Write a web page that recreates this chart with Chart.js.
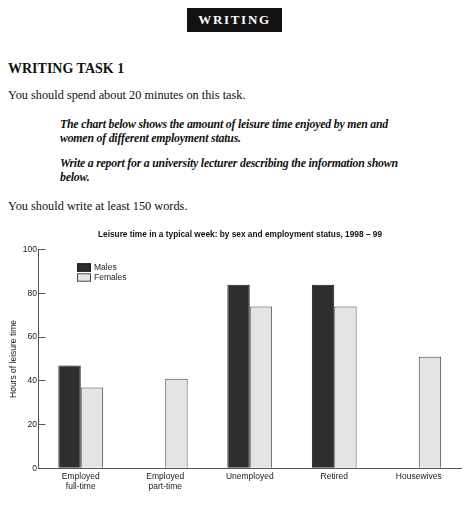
<!DOCTYPE html>
<html>
<head>
<meta charset="utf-8">
<script src="https://cdn.jsdelivr.net/npm/chart.js@4.4.1/dist/chart.umd.min.js"></script>
<style>
  html, body { margin: 0; padding: 0; background: #fff; overflow: hidden; }
  body { width: 470px; height: 512px; position: relative; font-family: "Liberation Serif", "Times New Roman", serif; color: #111; }
  .t { position: absolute; white-space: nowrap; color: #111; }
  #badge { left: 187px; top: 8px; width: 95px; height: 24px; background: #111; color: #fff;
           font: bold 13px/24px "Liberation Serif", serif; letter-spacing: 1.7px; text-align: center; }
  #task { left: 8px; top: 60.6px; font: bold 14px/16px "Liberation Serif", serif; }
  .p { font-family: "Liberation Serif", "Times New Roman", serif; font-size: 12.3px; line-height: 14px; }
  .bi { font-weight: bold; font-style: italic; font-size: 11.8px; letter-spacing: -0.2px; }
  #ctitle { left: 0; width: 480px; text-align: center; top: 228.5px;
            font: bold 8.3px/10px "Liberation Sans", Arial, sans-serif; color: #111; }
  #wrap { position: absolute; left: 0; top: 222px; width: 470px; height: 290px; }
</style>
</head>
<body>
<div class="t" id="badge">WRITING</div>
<div class="t" id="task">WRITING TASK 1</div>
<div class="t p" style="left:8px; top:88.2px;">You should spend about 20 minutes on this task.</div>
<div class="t p bi" style="left:60px; top:116.6px;">The chart below shows the amount of leisure time enjoyed by men and<br>women of different employment status.</div>
<div class="t p bi" style="left:60px; top:156px;">Write a report for a university lecturer describing the information shown<br>below.</div>
<div class="t p" style="left:8px; top:198.9px;">You should write at least <span style="color:#111">150</span> words.</div>
<div id="wrap"><canvas id="chart" width="470" height="290"></canvas></div>
<div class="t" id="ctitle">Leisure time in a typical week: by sex and employment status, 1998 – 99</div>

<script>
const categories = [["Employed", "full-time"], ["Employed", "part-time"], "Unemployed", "Retired", "Housewives"];
const males = [47, null, 84, 84, null];
const females = [37, 41, 74, 74, 51];
const yTicks = [0, 20, 40, 60, 80, 100];

const sans = "'Liberation Sans', Arial, sans-serif";

// legend sits inside the plot, top left
const insideLegend = {
  id: "insideLegend",
  afterDraw(chart) {
    const c = chart.ctx;
    const a = chart.chartArea;
    const x = a.left + 38.5;
    let y = a.top + 13.6;
    c.save();
    c.font = "8.5px " + sans;
    c.textBaseline = "middle";
    chart.data.datasets.forEach(function (ds) {
      c.fillStyle = ds.backgroundColor;
      c.fillRect(x, y, 14, 8.4);
      c.strokeStyle = ds.borderColor;
      c.lineWidth = 1;
      c.strokeRect(x + 0.5, y + 0.5, 13, 7.4);
      c.fillStyle = "#1a1a1a";
      c.fillText(ds.label, x + 17, y + 4.4);
      y += 10;
    });
    c.restore();
  },
};

new Chart(document.getElementById("chart").getContext("2d"), {
  type: "bar",
  data: {
    labels: categories,
    datasets: [
      {
        label: "Males",
        data: males,
        backgroundColor: "#2e2e2e",
        borderColor: "#1a1a1a",
        borderWidth: 1,
      },
      {
        label: "Females",
        data: females,
        backgroundColor: "#e4e4e4",
        borderColor: "#4a4a4a",
        borderWidth: 1,
      },
    ],
  },
  options: {
    responsive: false,
    animation: false,
    // top padding leaves room for the html title above the plot
    layout: { padding: { left: 0, right: 9, top: 27.7, bottom: 0 } },
    datasets: { bar: { categoryPercentage: 0.53, barPercentage: 1 } },
    plugins: {
      legend: { display: false },
      tooltip: { enabled: false },
    },
    scales: {
      x: {
        grid: { display: false, drawTicks: false },
        border: { display: true, color: "#555", width: 1 },
        ticks: { color: "#1a1a1a", font: { family: sans, size: 8.5 }, padding: 3, maxRotation: 0, autoSkip: false },
        afterFit(scale) { scale.height = 43.7; },
      },
      y: {
        min: 0,
        max: 100,
        afterBuildTicks(scale) { scale.ticks = yTicks.map(function (v) { return { value: v }; }); },
        grid: { drawOnChartArea: false, drawTicks: true, tickLength: -7, color: "#555" },
        border: { display: true, color: "#555", width: 1 },
        ticks: { color: "#1a1a1a", font: { family: sans, size: 8.5 }, padding: 8.5 },
        title: {
          display: true,
          text: "Hours of leisure time",
          color: "#1a1a1a",
          font: { family: sans, size: 8.5 },
          padding: { top: 9, bottom: 0 },
        },
        afterFit(scale) { scale.width = 38.5; },
      },
    },
  },
  plugins: [insideLegend],
});
</script>
</body>
</html>
